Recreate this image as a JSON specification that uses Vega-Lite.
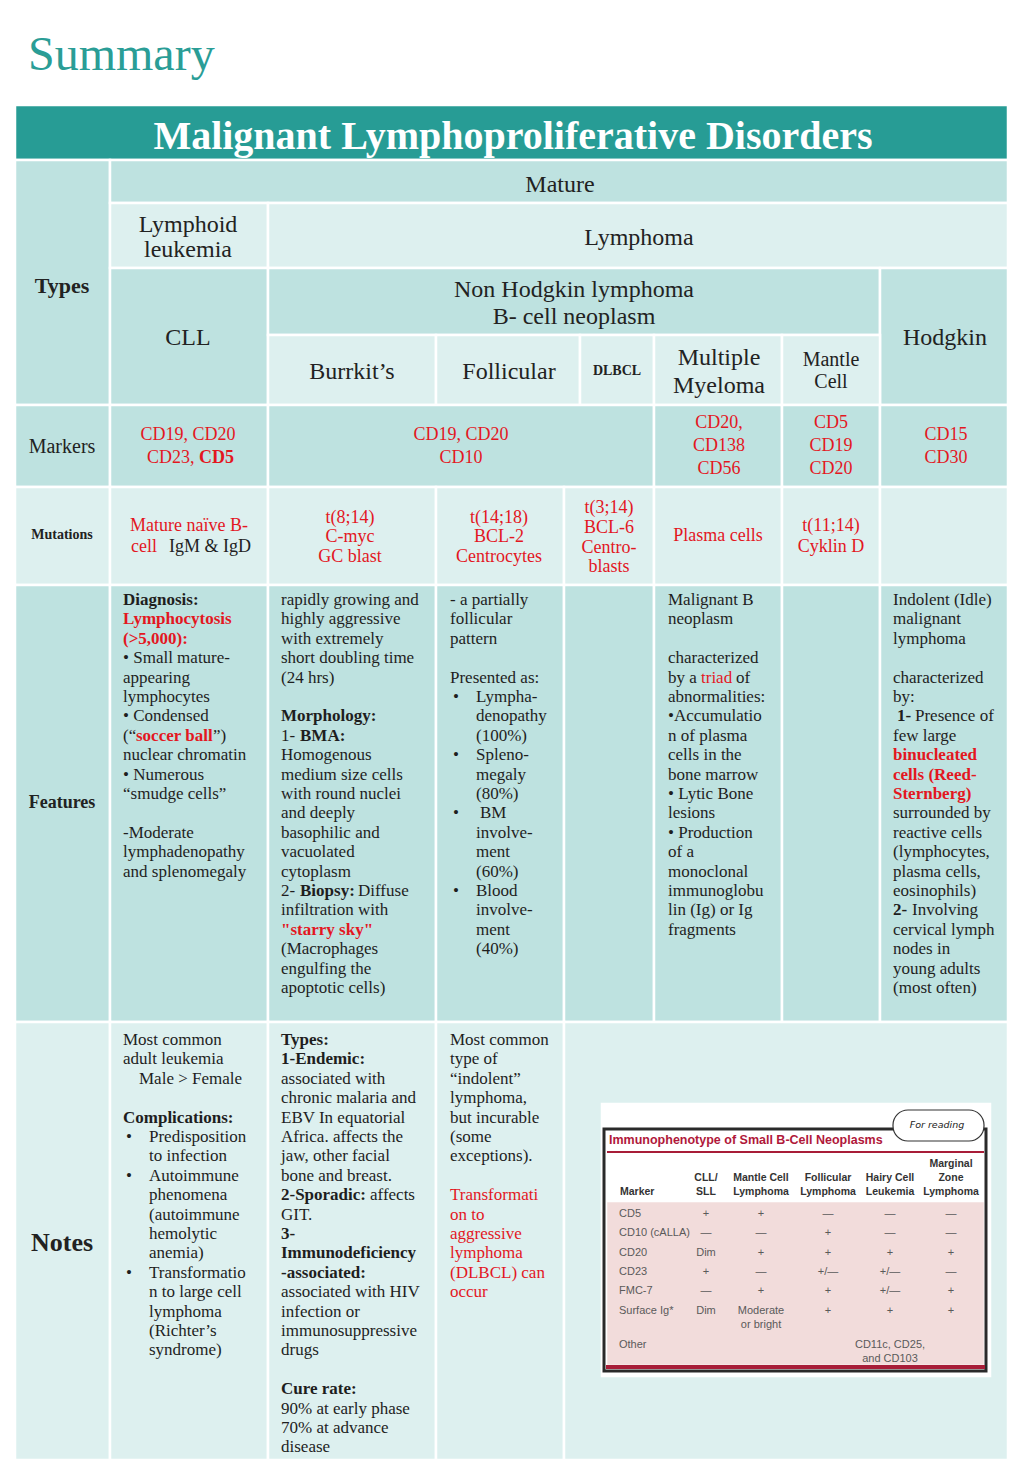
{
"$schema":"https://vega.github.io/schema/vega-lite/v6.json",
"width":1024,"height":1479,
"autosize":{"type":"fit","contains":"padding"},
"padding":0,
"background":"white",
"config":{"view":{"stroke":null}},
"datasets":{
"cells":[
{"x0":15,"x1":1008,"y0":105,"y1":160,"tone":"band"},
{"x0":15,"x1":110,"y0":160,"y1":405,"tone":"dark"},
{"x0":110,"x1":1008,"y0":160,"y1":203,"tone":"dark"},
{"x0":110,"x1":268,"y0":203,"y1":268,"tone":"light"},
{"x0":268,"x1":1008,"y0":203,"y1":268,"tone":"light"},
{"x0":110,"x1":268,"y0":268,"y1":405,"tone":"dark"},
{"x0":268,"x1":880,"y0":268,"y1":335,"tone":"dark"},
{"x0":880,"x1":1008,"y0":268,"y1":405,"tone":"dark"},
{"x0":268,"x1":436,"y0":335,"y1":405,"tone":"light"},
{"x0":436,"x1":580,"y0":335,"y1":405,"tone":"light"},
{"x0":580,"x1":654,"y0":335,"y1":405,"tone":"light"},
{"x0":654,"x1":782,"y0":335,"y1":405,"tone":"light"},
{"x0":782,"x1":880,"y0":335,"y1":405,"tone":"light"},
{"x0":15,"x1":110,"y0":405,"y1":487,"tone":"dark"},
{"x0":110,"x1":268,"y0":405,"y1":487,"tone":"dark"},
{"x0":268,"x1":654,"y0":405,"y1":487,"tone":"dark"},
{"x0":654,"x1":782,"y0":405,"y1":487,"tone":"dark"},
{"x0":782,"x1":880,"y0":405,"y1":487,"tone":"dark"},
{"x0":880,"x1":1008,"y0":405,"y1":487,"tone":"dark"},
{"x0":15,"x1":110,"y0":487,"y1":585,"tone":"light"},
{"x0":110,"x1":268,"y0":487,"y1":585,"tone":"light"},
{"x0":268,"x1":436,"y0":487,"y1":585,"tone":"light"},
{"x0":436,"x1":564,"y0":487,"y1":585,"tone":"light"},
{"x0":564,"x1":654,"y0":487,"y1":585,"tone":"light"},
{"x0":654,"x1":782,"y0":487,"y1":585,"tone":"light"},
{"x0":782,"x1":880,"y0":487,"y1":585,"tone":"light"},
{"x0":880,"x1":1008,"y0":487,"y1":585,"tone":"light"},
{"x0":15,"x1":110,"y0":585,"y1":1022,"tone":"dark"},
{"x0":110,"x1":268,"y0":585,"y1":1022,"tone":"dark"},
{"x0":268,"x1":436,"y0":585,"y1":1022,"tone":"dark"},
{"x0":436,"x1":564,"y0":585,"y1":1022,"tone":"dark"},
{"x0":564,"x1":654,"y0":585,"y1":1022,"tone":"dark"},
{"x0":654,"x1":782,"y0":585,"y1":1022,"tone":"dark"},
{"x0":782,"x1":880,"y0":585,"y1":1022,"tone":"dark"},
{"x0":880,"x1":1008,"y0":585,"y1":1022,"tone":"dark"},
{"x0":15,"x1":110,"y0":1022,"y1":1460,"tone":"light"},
{"x0":110,"x1":268,"y0":1022,"y1":1460,"tone":"light"},
{"x0":268,"x1":436,"y0":1022,"y1":1460,"tone":"light"},
{"x0":436,"x1":564,"y0":1022,"y1":1460,"tone":"light"},
{"x0":564,"x1":1008,"y0":1022,"y1":1460,"tone":"light"},
{"x0":602,"x1":990,"y0":1104,"y1":1376,"tone":"white"},
{"x0":606,"x1":985,"y0":1201,"y1":1366,"tone":"pink"}
],
"T":[
{"x":28,"y":56,"t":"Summary","k":"sum"},
{"x":513,"y":137,"t":"Malignant Lymphoproliferative Disorders","k":"ban"},
{"x":560,"y":185,"t":"Mature","k":"h"},
{"x":188,"y":225,"t":"Lymphoid","k":"h"},
{"x":188,"y":250,"t":"leukemia","k":"h"},
{"x":639,"y":238,"t":"Lymphoma","k":"h"},
{"x":188,"y":338,"t":"CLL","k":"h"},
{"x":574,"y":290,"t":"Non Hodgkin lymphoma","k":"h"},
{"x":574,"y":317,"t":"B- cell neoplasm","k":"h"},
{"x":945,"y":338,"t":"Hodgkin","k":"h"},
{"x":352,"y":372,"t":"Burrkit’s","k":"h"},
{"x":509,"y":372,"t":"Follicular","k":"h"},
{"x":719,"y":358,"t":"Multiple","k":"h"},
{"x":719,"y":386,"t":"Myeloma","k":"h"},
{"x":831,"y":360,"t":"Mantle","k":"h20"},
{"x":831,"y":382,"t":"Cell","k":"h20"},
{"x":62,"y":447,"t":"Markers","k":"h20"},
{"x":62,"y":286,"t":"Types","k":"hb"},
{"x":62,"y":803,"t":"Features","k":"fb"},
{"x":62,"y":1243,"t":"Notes","k":"nb"},
{"x":62,"y":535,"t":"Mutations","k":"sb"},
{"x":617,"y":371,"t":"DLBCL","k":"sb"},
{"x":188,"y":435,"t":"CD19,  CD20","k":"r"},
{"x":147,"y":458,"t":"CD23,","k":"rL"},
{"x":199,"y":458,"t":"CD5","k":"rbL"},
{"x":461,"y":435,"t":"CD19, CD20","k":"r"},
{"x":461,"y":458,"t":"CD10","k":"r"},
{"x":719,"y":423,"t":"CD20,","k":"r"},
{"x":719,"y":446,"t":"CD138","k":"r"},
{"x":719,"y":469,"t":"CD56","k":"r"},
{"x":831,"y":423,"t":"CD5","k":"r"},
{"x":831,"y":446,"t":"CD19","k":"r"},
{"x":831,"y":469,"t":"CD20","k":"r"},
{"x":946,"y":435,"t":"CD15","k":"r"},
{"x":946,"y":458,"t":"CD30","k":"r"},
{"x":189,"y":526,"t":"Mature naïve B-","k":"r"},
{"x":131,"y":547,"t":"cell","k":"rL"},
{"x":169,"y":547,"t":"IgM & IgD","k":"kL"},
{"x":350,"y":518,"t":"t(8;14)","k":"r"},
{"x":350,"y":537,"t":"C-myc","k":"r"},
{"x":350,"y":557,"t":"GC blast","k":"r"},
{"x":499,"y":518,"t":"t(14;18)","k":"r"},
{"x":499,"y":537,"t":"BCL-2","k":"r"},
{"x":499,"y":557,"t":"Centrocytes","k":"r"},
{"x":609,"y":508,"t":"t(3;14)","k":"r"},
{"x":609,"y":528,"t":"BCL-6","k":"r"},
{"x":609,"y":548,"t":"Centro-","k":"r"},
{"x":609,"y":567,"t":"blasts","k":"r"},
{"x":718,"y":536,"t":"Plasma cells","k":"r"},
{"x":831,"y":526,"t":"t(11;14)","k":"r"},
{"x":831,"y":547,"t":"Cyklin D","k":"r"},

{"x":123,"y":600,"t":"Diagnosis:","k":"bb"},
{"x":123,"y":619,"t":"Lymphocytosis","k":"brb"},
{"x":123,"y":639,"t":"(>5,000):","k":"brb"},
{"x":123,"y":658,"t":"• Small mature-","k":"b"},
{"x":123,"y":678,"t":"appearing","k":"b"},
{"x":123,"y":697,"t":"lymphocytes","k":"b"},
{"x":123,"y":716,"t":"• Condensed","k":"b"},
{"x":123,"y":736,"t":"(“","k":"b"},
{"x":136,"y":736,"t":"soccer ball","k":"brb"},
{"x":213,"y":736,"t":"”)","k":"b"},
{"x":123,"y":755,"t":"nuclear chromatin","k":"b"},
{"x":123,"y":775,"t":"• Numerous","k":"b"},
{"x":123,"y":794,"t":"“smudge cells”","k":"b"},
{"x":123,"y":833,"t":"-Moderate","k":"b"},
{"x":123,"y":852,"t":"lymphadenopathy","k":"b"},
{"x":123,"y":872,"t":"and splenomegaly","k":"b"},

{"x":281,"y":600,"t":"rapidly growing and","k":"b"},
{"x":281,"y":619,"t":"highly aggressive","k":"b"},
{"x":281,"y":639,"t":"with extremely","k":"b"},
{"x":281,"y":658,"t":"short doubling time","k":"b"},
{"x":281,"y":678,"t":"(24 hrs)","k":"b"},
{"x":281,"y":716,"t":"Morphology:","k":"bb"},
{"x":281,"y":736,"t":"1-","k":"b"},
{"x":300,"y":736,"t":"BMA:","k":"bb"},
{"x":281,"y":755,"t":"Homogenous","k":"b"},
{"x":281,"y":775,"t":"medium size cells","k":"b"},
{"x":281,"y":794,"t":"with round nuclei","k":"b"},
{"x":281,"y":813,"t":"and deeply","k":"b"},
{"x":281,"y":833,"t":"basophilic and","k":"b"},
{"x":281,"y":852,"t":"vacuolated","k":"b"},
{"x":281,"y":872,"t":"cytoplasm","k":"b"},
{"x":281,"y":891,"t":"2-","k":"b"},
{"x":300,"y":891,"t":"Biopsy:","k":"bb"},
{"x":358,"y":891,"t":"Diffuse","k":"b"},
{"x":281,"y":910,"t":"infiltration with","k":"b"},
{"x":281,"y":930,"t":"\"starry sky\"","k":"brb"},
{"x":281,"y":949,"t":"(Macrophages","k":"b"},
{"x":281,"y":969,"t":"engulfing the","k":"b"},
{"x":281,"y":988,"t":"apoptotic cells)","k":"b"},

{"x":450,"y":600,"t":"- a partially","k":"b"},
{"x":450,"y":619,"t":"follicular","k":"b"},
{"x":450,"y":639,"t":"pattern","k":"b"},
{"x":450,"y":678,"t":"Presented as:","k":"b"},
{"x":453,"y":697,"t":"•","k":"b"},
{"x":476,"y":697,"t":"Lympha-","k":"b"},
{"x":476,"y":716,"t":"denopathy","k":"b"},
{"x":476,"y":736,"t":"(100%)","k":"b"},
{"x":453,"y":755,"t":"•","k":"b"},
{"x":476,"y":755,"t":"Spleno-","k":"b"},
{"x":476,"y":775,"t":"megaly","k":"b"},
{"x":476,"y":794,"t":"(80%)","k":"b"},
{"x":453,"y":813,"t":"•","k":"b"},
{"x":480,"y":813,"t":"BM","k":"b"},
{"x":476,"y":833,"t":"involve-","k":"b"},
{"x":476,"y":852,"t":"ment","k":"b"},
{"x":476,"y":872,"t":"(60%)","k":"b"},
{"x":453,"y":891,"t":"•","k":"b"},
{"x":476,"y":891,"t":"Blood","k":"b"},
{"x":476,"y":910,"t":"involve-","k":"b"},
{"x":476,"y":930,"t":"ment","k":"b"},
{"x":476,"y":949,"t":"(40%)","k":"b"},

{"x":668,"y":600,"t":"Malignant B","k":"b"},
{"x":668,"y":619,"t":"neoplasm","k":"b"},
{"x":668,"y":658,"t":"characterized","k":"b"},
{"x":668,"y":678,"t":"by a","k":"b"},
{"x":701,"y":678,"t":"triad","k":"br"},
{"x":736,"y":678,"t":"of","k":"b"},
{"x":668,"y":697,"t":"abnormalities:","k":"b"},
{"x":668,"y":716,"t":"•Accumulatio","k":"b"},
{"x":668,"y":736,"t":"n of plasma","k":"b"},
{"x":668,"y":755,"t":"cells in the","k":"b"},
{"x":668,"y":775,"t":"bone marrow","k":"b"},
{"x":668,"y":794,"t":"• Lytic Bone","k":"b"},
{"x":668,"y":813,"t":"lesions","k":"b"},
{"x":668,"y":833,"t":"• Production","k":"b"},
{"x":668,"y":852,"t":"of a","k":"b"},
{"x":668,"y":872,"t":"monoclonal","k":"b"},
{"x":668,"y":891,"t":"immunoglobu","k":"b"},
{"x":668,"y":910,"t":"lin (Ig) or Ig","k":"b"},
{"x":668,"y":930,"t":"fragments","k":"b"},

{"x":893,"y":600,"t":"Indolent (Idle)","k":"b"},
{"x":893,"y":619,"t":"malignant","k":"b"},
{"x":893,"y":639,"t":"lymphoma","k":"b"},
{"x":893,"y":678,"t":"characterized","k":"b"},
{"x":893,"y":697,"t":"by:","k":"b"},
{"x":897,"y":716,"t":"1-","k":"bb"},
{"x":915,"y":716,"t":"Presence of","k":"b"},
{"x":893,"y":736,"t":"few large","k":"b"},
{"x":893,"y":755,"t":"binucleated","k":"brb"},
{"x":893,"y":775,"t":"cells (Reed-","k":"brb"},
{"x":893,"y":794,"t":"Sternberg)","k":"brb"},
{"x":893,"y":813,"t":"surrounded by","k":"b"},
{"x":893,"y":833,"t":"reactive cells","k":"b"},
{"x":893,"y":852,"t":"(lymphocytes,","k":"b"},
{"x":893,"y":872,"t":"plasma cells,","k":"b"},
{"x":893,"y":891,"t":"eosinophils)","k":"b"},
{"x":893,"y":910,"t":"2-","k":"bb"},
{"x":912,"y":910,"t":"Involving","k":"b"},
{"x":893,"y":930,"t":"cervical lymph","k":"b"},
{"x":893,"y":949,"t":"nodes in","k":"b"},
{"x":893,"y":969,"t":"young adults","k":"b"},
{"x":893,"y":988,"t":"(most often)","k":"b"},

{"x":123,"y":1040,"t":"Most common","k":"b"},
{"x":123,"y":1059,"t":"adult leukemia","k":"b"},
{"x":139,"y":1079,"t":"Male > Female","k":"b"},
{"x":123,"y":1118,"t":"Complications:","k":"bb"},
{"x":126,"y":1137,"t":"•","k":"b"},
{"x":149,"y":1137,"t":"Predisposition","k":"b"},
{"x":149,"y":1156,"t":"to infection","k":"b"},
{"x":126,"y":1176,"t":"•","k":"b"},
{"x":149,"y":1176,"t":"Autoimmune","k":"b"},
{"x":149,"y":1195,"t":"phenomena","k":"b"},
{"x":149,"y":1215,"t":"(autoimmune","k":"b"},
{"x":149,"y":1234,"t":"hemolytic","k":"b"},
{"x":149,"y":1253,"t":"anemia)","k":"b"},
{"x":126,"y":1273,"t":"•","k":"b"},
{"x":149,"y":1273,"t":"Transformatio","k":"b"},
{"x":149,"y":1292,"t":"n to large cell","k":"b"},
{"x":149,"y":1312,"t":"lymphoma","k":"b"},
{"x":149,"y":1331,"t":"(Richter’s","k":"b"},
{"x":149,"y":1350,"t":"syndrome)","k":"b"},

{"x":281,"y":1040,"t":"Types:","k":"bb"},
{"x":281,"y":1059,"t":"1-Endemic:","k":"bb"},
{"x":281,"y":1079,"t":"associated with","k":"b"},
{"x":281,"y":1098,"t":"chronic malaria and","k":"b"},
{"x":281,"y":1118,"t":"EBV In equatorial","k":"b"},
{"x":281,"y":1137,"t":"Africa. affects the","k":"b"},
{"x":281,"y":1156,"t":"jaw, other facial","k":"b"},
{"x":281,"y":1176,"t":"bone and breast.","k":"b"},
{"x":281,"y":1195,"t":"2-Sporadic:","k":"bb"},
{"x":370,"y":1195,"t":"affects","k":"b"},
{"x":281,"y":1215,"t":"GIT.","k":"b"},
{"x":281,"y":1234,"t":"3-","k":"bb"},
{"x":281,"y":1253,"t":"Immunodeficiency","k":"bb"},
{"x":281,"y":1273,"t":"-associated:","k":"bb"},
{"x":281,"y":1292,"t":"associated with HIV","k":"b"},
{"x":281,"y":1312,"t":"infection or","k":"b"},
{"x":281,"y":1331,"t":"immunosuppressive","k":"b"},
{"x":281,"y":1350,"t":"drugs","k":"b"},
{"x":281,"y":1389,"t":"Cure rate:","k":"bb"},
{"x":281,"y":1409,"t":"90% at early phase","k":"b"},
{"x":281,"y":1428,"t":"70%  at advance","k":"b"},
{"x":281,"y":1447,"t":"disease","k":"b"},

{"x":450,"y":1040,"t":"Most common","k":"b"},
{"x":450,"y":1059,"t":"type of","k":"b"},
{"x":450,"y":1079,"t":"“indolent”","k":"b"},
{"x":450,"y":1098,"t":"lymphoma,","k":"b"},
{"x":450,"y":1118,"t":"but incurable","k":"b"},
{"x":450,"y":1137,"t":"(some","k":"b"},
{"x":450,"y":1156,"t":"exceptions).","k":"b"},
{"x":450,"y":1195,"t":"Transformati","k":"br"},
{"x":450,"y":1215,"t":"on to","k":"br"},
{"x":450,"y":1234,"t":"aggressive","k":"br"},
{"x":450,"y":1253,"t":"lymphoma","k":"br"},
{"x":450,"y":1273,"t":"(DLBCL) can","k":"br"},
{"x":450,"y":1292,"t":"occur","k":"br"},

{"x":609,"y":1140,"t":"Immunophenotype of Small B-Cell Neoplasms","k":"it"},
{"x":620,"y":1192,"t":"Marker","k":"ihL"},
{"x":706,"y":1178,"t":"CLL/","k":"ih"},
{"x":706,"y":1192,"t":"SLL","k":"ih"},
{"x":761,"y":1178,"t":"Mantle Cell","k":"ih"},
{"x":761,"y":1192,"t":"Lymphoma","k":"ih"},
{"x":828,"y":1178,"t":"Follicular","k":"ih"},
{"x":828,"y":1192,"t":"Lymphoma","k":"ih"},
{"x":890,"y":1178,"t":"Hairy Cell","k":"ih"},
{"x":890,"y":1192,"t":"Leukemia","k":"ih"},
{"x":951,"y":1164,"t":"Marginal","k":"ih"},
{"x":951,"y":1178,"t":"Zone","k":"ih"},
{"x":951,"y":1192,"t":"Lymphoma","k":"ih"},
{"x":619,"y":1214,"t":"CD5","k":"ivL"},
{"x":619,"y":1233,"t":"CD10 (cALLA)","k":"ivL"},
{"x":619,"y":1253,"t":"CD20","k":"ivL"},
{"x":619,"y":1272,"t":"CD23","k":"ivL"},
{"x":619,"y":1291,"t":"FMC-7","k":"ivL"},
{"x":619,"y":1311,"t":"Surface Ig*","k":"ivL"},
{"x":619,"y":1345,"t":"Other","k":"ivL"},
{"x":706,"y":1214,"t":"+","k":"iv"},{"x":761,"y":1214,"t":"+","k":"iv"},{"x":828,"y":1214,"t":"—","k":"iv"},{"x":890,"y":1214,"t":"—","k":"iv"},{"x":951,"y":1214,"t":"—","k":"iv"},
{"x":706,"y":1233,"t":"—","k":"iv"},{"x":761,"y":1233,"t":"—","k":"iv"},{"x":828,"y":1233,"t":"+","k":"iv"},{"x":890,"y":1233,"t":"—","k":"iv"},{"x":951,"y":1233,"t":"—","k":"iv"},
{"x":706,"y":1253,"t":"Dim","k":"iv"},{"x":761,"y":1253,"t":"+","k":"iv"},{"x":828,"y":1253,"t":"+","k":"iv"},{"x":890,"y":1253,"t":"+","k":"iv"},{"x":951,"y":1253,"t":"+","k":"iv"},
{"x":706,"y":1272,"t":"+","k":"iv"},{"x":761,"y":1272,"t":"—","k":"iv"},{"x":828,"y":1272,"t":"+/—","k":"iv"},{"x":890,"y":1272,"t":"+/—","k":"iv"},{"x":951,"y":1272,"t":"—","k":"iv"},
{"x":706,"y":1291,"t":"—","k":"iv"},{"x":761,"y":1291,"t":"+","k":"iv"},{"x":828,"y":1291,"t":"+","k":"iv"},{"x":890,"y":1291,"t":"+/—","k":"iv"},{"x":951,"y":1291,"t":"+","k":"iv"},
{"x":706,"y":1311,"t":"Dim","k":"iv"},{"x":761,"y":1311,"t":"Moderate","k":"iv"},{"x":828,"y":1311,"t":"+","k":"iv"},{"x":890,"y":1311,"t":"+","k":"iv"},{"x":951,"y":1311,"t":"+","k":"iv"},
{"x":761,"y":1325,"t":"or bright","k":"iv"},
{"x":890,"y":1345,"t":"CD11c, CD25,","k":"iv"},
{"x":890,"y":1359,"t":"and CD103","k":"iv"},
{"x":937,"y":1125,"t":"For reading","k":"cl"}
]
},
"layer":[
{"data":{"name":"cells"},
 "mark":{"type":"rect","stroke":"white","strokeWidth":2.5},
 "encoding":{
  "x":{"field":"x0","type":"quantitative","scale":{"domain":[0,1024],"nice":false,"zero":false},"axis":null},
  "x2":{"field":"x1"},
  "y":{"field":"y0","type":"quantitative","scale":{"domain":[0,1479],"nice":false,"zero":false,"reverse":true},"axis":null},
  "y2":{"field":"y1"},
  "color":{"field":"tone","type":"nominal","scale":{"domain":["band","dark","light","white","pink"],"range":["#279c95","#bee2e0","#ddf0ef","#ffffff","#f2dcdb"]},"legend":null}}},
{"data":{"values":[{"x0":604,"x1":986,"y0":1129,"y1":1371}]},
 "mark":{"type":"rect","filled":false,"stroke":"#2a2a2a","strokeWidth":3},
 "encoding":{"x":{"field":"x0","type":"quantitative","axis":null},"x2":{"field":"x1"},"y":{"field":"y0","type":"quantitative","axis":null},"y2":{"field":"y1"}}},
{"data":{"values":[{"x0":607,"x1":984,"y":1152,"w":"thin"},{"x0":606,"x1":985,"y":1367,"w":"thick"}]},
 "mark":{"type":"rule","color":"#a81d38"},
 "encoding":{"x":{"field":"x0","type":"quantitative","axis":null},"x2":{"field":"x1"},"y":{"field":"y","type":"quantitative","axis":null},
  "strokeWidth":{"field":"w","type":"nominal","scale":{"domain":["thin","thick"],"range":[2,4]},"legend":null}}},
{"data":{"values":[{"x0":893,"x1":984,"y0":1110,"y1":1141}]},
 "mark":{"type":"rect","fill":"white","stroke":"#333333","strokeWidth":1.2,"cornerRadius":15},
 "encoding":{"x":{"field":"x0","type":"quantitative","axis":null},"x2":{"field":"x1"},"y":{"field":"y0","type":"quantitative","axis":null},"y2":{"field":"y1"}}},
{"data":{"name":"T"},
 "encoding":{
  "x":{"field":"x","type":"quantitative","axis":null},
  "y":{"field":"y","type":"quantitative","axis":null},
  "text":{"field":"t","type":"nominal"}},
 "layer":[
  {"transform":[{"filter":"datum.k=='sum'"}],"mark":{"type":"text","font":"Liberation Serif","fontSize":48,"color":"#2a9d96","align":"left","baseline":"middle"}},
  {"transform":[{"filter":"datum.k=='ban'"}],"mark":{"type":"text","font":"Liberation Serif","fontSize":40,"fontWeight":"bold","color":"#ffffff","align":"center","baseline":"middle"}},
  {"transform":[{"filter":"datum.k=='h'"}],"mark":{"type":"text","font":"Liberation Serif","fontSize":24,"color":"#222222","align":"center","baseline":"middle"}},
  {"transform":[{"filter":"datum.k=='h20'"}],"mark":{"type":"text","font":"Liberation Serif","fontSize":20,"color":"#222222","align":"center","baseline":"middle"}},
  {"transform":[{"filter":"datum.k=='hb'"}],"mark":{"type":"text","font":"Liberation Serif","fontSize":22,"fontWeight":"bold","color":"#222222","align":"center","baseline":"middle"}},
  {"transform":[{"filter":"datum.k=='fb'"}],"mark":{"type":"text","font":"Liberation Serif","fontSize":18,"fontWeight":"bold","color":"#222222","align":"center","baseline":"middle"}},
  {"transform":[{"filter":"datum.k=='nb'"}],"mark":{"type":"text","font":"Liberation Serif","fontSize":26,"fontWeight":"bold","color":"#222222","align":"center","baseline":"middle"}},
  {"transform":[{"filter":"datum.k=='sb'"}],"mark":{"type":"text","font":"Liberation Serif","fontSize":14,"fontWeight":"bold","color":"#222222","align":"center","baseline":"middle"}},
  {"transform":[{"filter":"datum.k=='r'"}],"mark":{"type":"text","font":"Liberation Serif","fontSize":18,"color":"#e3171f","align":"center","baseline":"middle"}},
  {"transform":[{"filter":"datum.k=='rL'"}],"mark":{"type":"text","font":"Liberation Serif","fontSize":18,"color":"#e3171f","align":"left","baseline":"middle"}},
  {"transform":[{"filter":"datum.k=='rbL'"}],"mark":{"type":"text","font":"Liberation Serif","fontSize":18,"fontWeight":"bold","color":"#e3171f","align":"left","baseline":"middle"}},
  {"transform":[{"filter":"datum.k=='kL'"}],"mark":{"type":"text","font":"Liberation Serif","fontSize":18,"color":"#222222","align":"left","baseline":"middle"}},
  {"transform":[{"filter":"datum.k=='b'"}],"mark":{"type":"text","font":"Liberation Serif","fontSize":17,"color":"#1e1e1e","align":"left","baseline":"middle"}},
  {"transform":[{"filter":"datum.k=='bb'"}],"mark":{"type":"text","font":"Liberation Serif","fontSize":17,"fontWeight":"bold","color":"#1e1e1e","align":"left","baseline":"middle"}},
  {"transform":[{"filter":"datum.k=='br'"}],"mark":{"type":"text","font":"Liberation Serif","fontSize":17,"color":"#e3171f","align":"left","baseline":"middle"}},
  {"transform":[{"filter":"datum.k=='brb'"}],"mark":{"type":"text","font":"Liberation Serif","fontSize":17,"fontWeight":"bold","color":"#e3171f","align":"left","baseline":"middle"}},
  {"transform":[{"filter":"datum.k=='it'"}],"mark":{"type":"text","font":"Liberation Sans","fontSize":12.5,"fontWeight":"bold","color":"#b0183a","align":"left","baseline":"middle"}},
  {"transform":[{"filter":"datum.k=='ih'"}],"mark":{"type":"text","font":"Liberation Sans","fontSize":10.5,"fontWeight":"bold","color":"#333333","align":"center","baseline":"middle"}},
  {"transform":[{"filter":"datum.k=='ihL'"}],"mark":{"type":"text","font":"Liberation Sans","fontSize":10.5,"fontWeight":"bold","color":"#333333","align":"left","baseline":"middle"}},
  {"transform":[{"filter":"datum.k=='iv'"}],"mark":{"type":"text","font":"Liberation Sans","fontSize":11,"color":"#5a5a5a","align":"center","baseline":"middle"}},
  {"transform":[{"filter":"datum.k=='ivL'"}],"mark":{"type":"text","font":"Liberation Sans","fontSize":11,"color":"#5a5a5a","align":"left","baseline":"middle"}},
  {"transform":[{"filter":"datum.k=='cl'"}],"mark":{"type":"text","font":"DejaVu Sans","fontSize":9.5,"fontStyle":"italic","color":"#222222","align":"center","baseline":"middle"}}
 ]}
]
}
